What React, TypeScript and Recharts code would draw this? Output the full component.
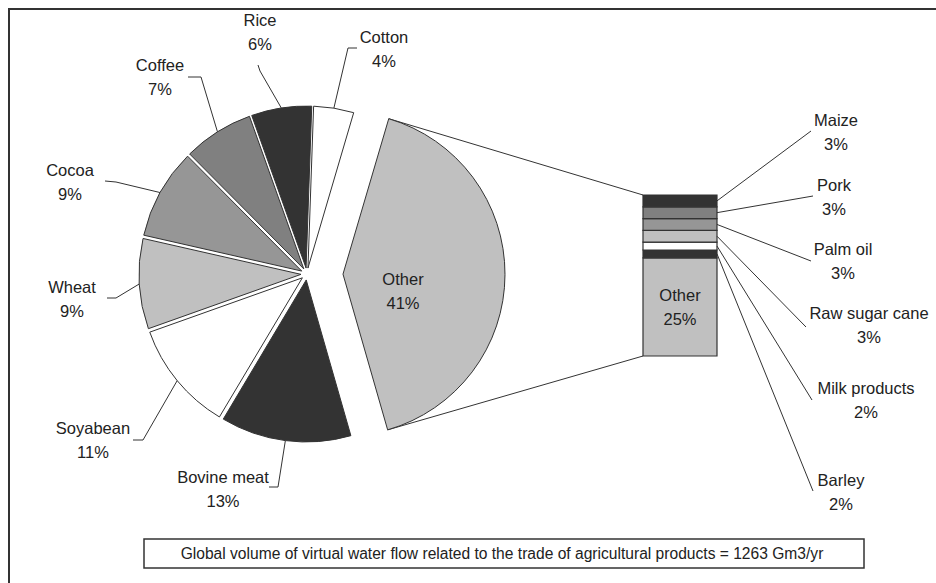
import React from 'react';
import { PieChart, Pie, Cell, Sector, BarChart, Bar, XAxis, YAxis } from 'recharts';

const W = 936;
const H = 583;
const FONT = '"Liberation Sans", Arial, sans-serif';
const RAD = Math.PI / 180;

// share of global virtual water flow, % (clockwise from the top)
const pieNames = ['Cotton', 'Other', 'Bovine meat', 'Soyabean', 'Wheat', 'Cocoa', 'Coffee', 'Rice'];
const pieValues = [4, 41, 13, 11, 9, 9, 7, 6];
const pieColors = ['#ffffff', '#c0c0c0', '#333333', '#ffffff', '#c0c0c0', '#969696', '#808080', '#333333'];

// breakdown of "Other", % (stack order: bottom to top)
const barNames = ['Other', 'Barley', 'Milk products', 'Raw sugar cane', 'Palm oil', 'Pork', 'Maize'];
const barValues = [25, 2, 2, 3, 3, 3, 3];
const barColors = ['#c0c0c0', '#333333', '#ffffff', '#c0c0c0', '#969696', '#808080', '#333333'];

const footnote = 'Global volume of virtual water flow related to the trade of agricultural products = 1263 Gm3/yr';

// layout
const PIE = { cx: 307, cy: 274, r: 162, start: 88, explode: 36, gap: 6 };
const BAR = { left: 643, right: 717, top: 195, bottom: 356 };

type Pos = { elbow?: [number, number]; end?: [number, number]; x: number; y: number };

const pieLabelPos: Record<string, Pos> = {
  Cotton: { elbow: [348, 48], end: [357, 48], x: 384, y: 37 },
  Other: { x: 403, y: 279 },
  'Bovine meat': { elbow: [278, 487], end: [269, 487], x: 223, y: 477 },
  Soyabean: { elbow: [143, 440], end: [133, 440], x: 93, y: 428 },
  Wheat: { elbow: [116, 298], end: [107, 298], x: 72, y: 287 },
  Cocoa: { elbow: [116, 182], end: [105, 181], x: 70, y: 170 },
  Coffee: { elbow: [201, 77], end: [188, 77], x: 160, y: 65 },
  Rice: { elbow: [260, 71], end: [258, 65], x: 260, y: 20 },
};

const barLabelPos: Record<string, Pos> = {
  Maize: { end: [811, 131], x: 836, y: 120 },
  Pork: { end: [813, 196], x: 834, y: 185 },
  'Palm oil': { end: [811, 261], x: 843, y: 249 },
  'Raw sugar cane': { end: [806, 327], x: 869, y: 313 },
  'Milk products': { end: [812, 400], x: 866, y: 388 },
  Barley: { end: [813, 491], x: 841, y: 480 },
};

const pieData = pieNames.map((name, i) => ({ name, value: pieValues[i] }));
const barRow = [Object.fromEntries([['cat', 'Other'], ...barNames.map((n, i) => [n, barValues[i]])])];
const barTotal = barValues.reduce((a, b) => a + b, 0);
const pieTotal = pieValues.reduce((a, b) => a + b, 0);

const TwoLines = ({ x, y, name, value }: { x: number; y: number; name: string; value: number }) => (
  <g fontFamily={FONT} fontSize={16.5} fill="#222" textAnchor="middle">
    <text x={x} y={y} dy="0.35em">{name}</text>
    <text x={x} y={y + 24} dy="0.35em">{value}%</text>
  </g>
);

const sliceOffset = (name: string) => (name === 'Other' ? PIE.explode : PIE.gap);

const renderSector = (props: any) => {
  const name = props.payload?.name ?? props.name;
  const off = sliceOffset(name);
  const a = -props.midAngle * RAD;
  return <Sector {...props} cx={props.cx + off * Math.cos(a)} cy={props.cy + off * Math.sin(a)} />;
};

const renderPieLabel = (props: any) => {
  const { cx, cy, midAngle, outerRadius } = props;
  const name = props.payload?.name ?? props.name;
  const value = props.payload?.value ?? props.value;
  const pos = pieLabelPos[name];
  if (!pos) return null;
  if (!pos.elbow) return <TwoLines x={pos.x} y={pos.y} name={name} value={value} />;
  const a = -midAngle * RAD;
  const rr = outerRadius + sliceOffset(name);
  const sx = cx + rr * Math.cos(a);
  const sy = cy + rr * Math.sin(a);
  return (
    <g>
      <polyline
        points={`${sx},${sy} ${pos.elbow[0]},${pos.elbow[1]} ${pos.end![0]},${pos.end![1]}`}
        fill="none"
        stroke="#333"
        strokeWidth={1}
      />
      <TwoLines x={pos.x} y={pos.y} name={name} value={value} />
    </g>
  );
};

const makeBarLabel = (name: string, value: number) => (props: any) => {
  const x = Number(props.x);
  const y = Number(props.y);
  const w = Number(props.width);
  const h = Number(props.height);
  if (name === 'Other') {
    return <TwoLines x={x + w / 2} y={y + h / 2 - 12} name={name} value={value} />;
  }
  const pos = barLabelPos[name];
  return (
    <g>
      <line x1={x + w} y1={y + h / 2} x2={pos.end![0]} y2={pos.end![1]} stroke="#333" strokeWidth={1} />
      <TwoLines x={pos.x} y={pos.y} name={name} value={value} />
    </g>
  );
};

export default function App() {
  // ends of the exploded "Other" slice, for the connector lines to the bar
  const otherIdx = pieNames.indexOf('Other');
  const before = pieValues.slice(0, otherIdx).reduce((a, b) => a + b, 0);
  const a0 = PIE.start - (before / pieTotal) * 360;
  const a1 = a0 - (pieValues[otherIdx] / pieTotal) * 360;
  const mid = (a0 + a1) / 2;
  const ocx = PIE.cx + PIE.explode * Math.cos(mid * RAD);
  const ocy = PIE.cy - PIE.explode * Math.sin(mid * RAD);
  const p0 = [ocx + PIE.r * Math.cos(a0 * RAD), ocy - PIE.r * Math.sin(a0 * RAD)];
  const p1 = [ocx + PIE.r * Math.cos(a1 * RAD), ocy - PIE.r * Math.sin(a1 * RAD)];

  const layer: React.CSSProperties = { position: 'absolute', left: 0, top: 0 };

  return (
    <div style={{ position: 'absolute', left: 0, top: 0, width: W, height: H, overflow: 'hidden', background: '#fff' }}>
      <svg width={W} height={H} style={{ ...layer, overflow: 'hidden' }}>
        <rect x={9} y={9} width={W + 20} height={H + 20} fill="none" stroke="#333" strokeWidth={2} />
        <line x1={p0[0]} y1={p0[1]} x2={BAR.left} y2={BAR.top} stroke="#333" strokeWidth={1} />
        <line x1={p1[0]} y1={p1[1]} x2={BAR.left} y2={BAR.bottom} stroke="#333" strokeWidth={1} />
        <rect x={144} y={539} width={720} height={29} fill="#fff" stroke="#333" strokeWidth={1.5} />
        <text x={502} y={554} dy="0.35em" textAnchor="middle" fontFamily={FONT} fontSize={15.6} fill="#222">
          {footnote}
        </text>
      </svg>
      <div style={layer}>
        <PieChart width={W} height={H} margin={{ top: 0, right: 0, bottom: 0, left: 0 }}>
          <Pie
            data={pieData}
            dataKey="value"
            nameKey="name"
            cx={PIE.cx}
            cy={PIE.cy}
            outerRadius={PIE.r}
            startAngle={PIE.start}
            endAngle={PIE.start - 360}
            stroke="#333"
            strokeWidth={1}
            shape={renderSector}
            label={renderPieLabel}
            labelLine={false}
            isAnimationActive={false}
          >
            {pieData.map((d, i) => (
              <Cell key={d.name} fill={pieColors[i]} />
            ))}
          </Pie>
        </PieChart>
      </div>
      <div style={layer}>
        <BarChart
          width={W}
          height={H}
          data={barRow}
          barCategoryGap={0}
          margin={{ top: BAR.top, bottom: H - BAR.bottom, left: BAR.left, right: W - BAR.right }}
        >
          <XAxis dataKey="cat" hide />
          <YAxis hide domain={[0, barTotal]} />
          {barNames.map((n, i) => (
            <Bar
              key={n}
              dataKey={n}
              stackId="s"
              fill={barColors[i]}
              stroke="#333"
              strokeWidth={1.2}
              label={makeBarLabel(n, barValues[i])}
              isAnimationActive={false}
            />
          ))}
        </BarChart>
      </div>
    </div>
  );
}
